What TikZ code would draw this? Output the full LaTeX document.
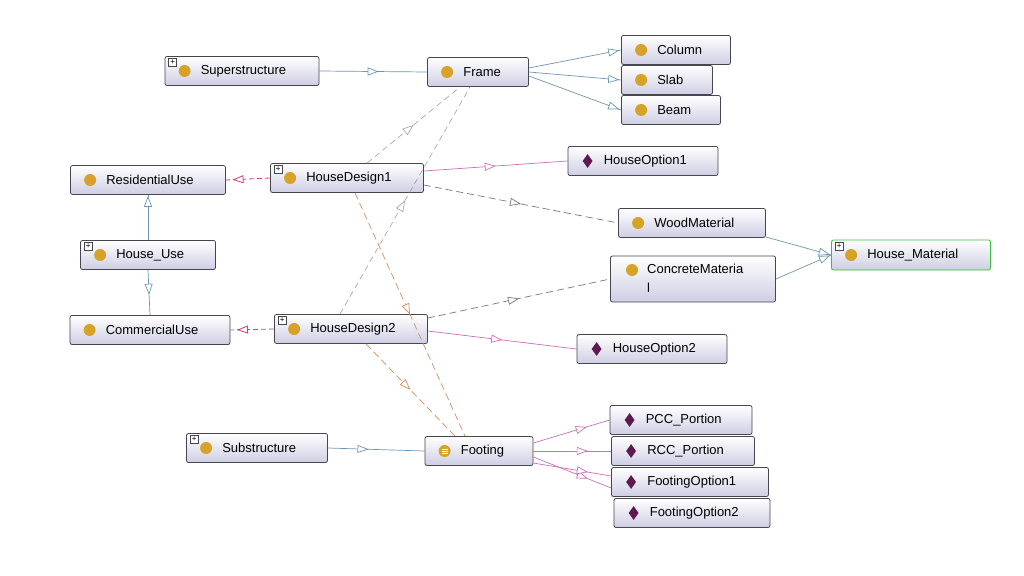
\documentclass[tikz,border=0pt]{standalone}
\usepackage{fontspec}
\setmainfont{Liberation Sans}
\usetikzlibrary{arrows.meta,decorations.markings,shapes.geometric}
\definecolor{lav}{RGB}{206,206,228}
\definecolor{bord}{RGB}{70,70,80}
\definecolor{gold}{RGB}{214,163,40}
\definecolor{plum}{RGB}{95,25,80}
\definecolor{eblue}{RGB}{110,150,180}
\definecolor{epink}{RGB}{205,110,185}
\definecolor{edpink}{RGB}{215,60,125}
\definecolor{egray}{RGB}{120,120,120}
\definecolor{eorange}{RGB}{215,140,90}
\tikzset{
 box/.style={draw=bord,line width=0.8pt,rounded corners=2pt,top color=white,bottom color=lav,minimum height=29,inner sep=0pt},
 lbl/.style={anchor=west,font=\fontsize{13}{15}\selectfont,inner sep=0pt},
 cls/.style={circle,fill=gold,minimum size=12,inner sep=0pt},
 ind/.style={diamond,fill=plum,minimum width=10,minimum height=14,inner sep=0pt},
 plus/.style={draw=bord,fill=white,minimum size=8,inner sep=0pt,font=\fontsize{8}{8}\selectfont},
 inh/.style={postaction={decorate},decoration={markings,mark=at position #1 with {\arrow[solid]{Triangle[open,length=11pt,width=8pt,fill=white]}}}},
 sb/.style={draw=eblue,line width=0.7pt},
 sp/.style={draw=epink,line width=0.7pt},
 dp/.style={draw=edpink,line width=0.8pt,dash pattern=on 5pt off 3pt},
 dg/.style={draw=egray,line width=0.7pt,dash pattern=on 7pt off 4pt},
 dl/.style={draw=egray!70,line width=0.6pt,dash pattern=on 6pt off 4pt},
 dor/.style={draw=eorange,line width=0.7pt,dash pattern=on 7pt off 4pt},
}
% name, cx, cy, width, text, icon (cls/ind/eq), plus(1/0)
\newcommand\onode[7]{%
 \node[box,minimum width=#4] (#1) at (#2,#3) {};
 \node[lbl] (#1t) at ([xshift=36]#1.west) {#5};
 \ifx#6e
  \node[cls] (#1i) at ([xshift=20]#1.west) {};
  \draw[white,line width=0.8pt] ([shift={(-3,-2)}]#1i.center) -- +(6,0) ([shift={(-3,0)}]#1i.center) -- +(6,0) ([shift={(-3,2)}]#1i.center) -- +(6,0);
 \else
  \node[#6] (#1i) at ([xshift=20]#1.west) {};
 \fi
 \ifnum#7=1 \node[plus] (#1p) at ([shift={(8,-9)}]#1.west) {+};\fi
}
\begin{document}
\begin{tikzpicture}[x=1pt,y=-1pt]
\fill[white] (0,0) rectangle (1024,575);
\useasboundingbox (0,0) rectangle (1024,575);
\onode{sup}{242}{71}{154}{Superstructure}{cls}{1}
\onode{frame}{478}{72}{101}{Frame}{cls}{0}
\onode{col}{676}{50}{109}{Column}{cls}{0}
\onode{slab}{667}{80}{91}{Slab}{cls}{0}
\onode{beam}{671}{110}{99}{Beam}{cls}{0}
\onode{ho1}{643}{161}{150}{HouseOption1}{ind}{0}
\onode{res}{148}{180}{155}{ResidentialUse}{cls}{0}
\onode{hd1}{347}{178}{153}{HouseDesign1}{cls}{1}
\onode{wood}{692}{223}{147}{WoodMaterial}{cls}{0}
\onode{huse}{148}{255}{135}{House\_Use}{cls}{1}
\onode{com}{150}{330}{160}{CommercialUse}{cls}{0}
\onode{hd2}{351}{329}{153}{HouseDesign2}{cls}{1}
\onode{ho2}{652}{349}{150}{HouseOption2}{ind}{0}
\onode{sub}{257}{448}{141}{Substructure}{cls}{1}
\onode{foot}{479}{451}{108}{Footing}{e}{0}
\onode{pcc}{681}{420}{142}{PCC\_Portion}{ind}{0}
\onode{rcc}{683}{451}{143}{RCC\_Portion}{ind}{0}
\onode{fo1}{690}{482}{157}{FootingOption1}{ind}{0}
\onode{fo2}{692}{513}{156}{FootingOption2}{ind}{0}
% House_Material (green border)
\node[box,draw={rgb,255:red,60;green,190;blue,60},minimum width=159,minimum height=30] (hmat) at (911,255) {};
\node[lbl] (hmatt) at ([xshift=36]hmat.west) {House\_Material};
\node[cls] (hmati) at ([xshift=20]hmat.west) {};
\node[plus] (hmatp) at ([shift={(8,-9)}]hmat.west) {+};
% ConcreteMaterial (two lines)
\node[box,minimum width=165,minimum height=46] (conc) at (693,279) {};
\node[anchor=north west,font=\fontsize{13}{19}\selectfont,align=left,inner sep=0pt] (conct) at (647,264) {ConcreteMateria\\l};
\node[cls] (conci) at (632,270) {};
% edges
\draw[sb,inh=0.55] (sup.east) -- (frame.west);
\draw[sb,inh=0.98] (frame.east) ++(0,-4) -- (col.west);
\draw[sb,inh=0.98] (frame.east) -- (slab.west);
\draw[sb,inh=0.98] (frame.east) ++(0,4) -- (beam.west);
\draw[sb,inh=0.98] (huse.north) -- (res.south);
\draw[sb,inh=0.55] (huse.south) -- (com.north);
\draw[dp,inh=0.85] (hd1.west) -- (res.east);
\draw[dp,inh=0.85] (hd2.west) -- (com.east);
\draw[sp,inh=0.5] (hd1.east) ++(0,-7) -- (ho1.west);
\draw[sp,inh=0.5] (hd2.east) ++(0,2) -- (ho2.west);
\draw[dg,inh=0.5] (hd1.east) ++(0,7) -- (wood.west);
\draw[dg,inh=0.5] (hd2.east) ++(0,-11) -- (conc.west);
\draw[sb,inh=0.98] (wood.east) ++(0,14) -- (hmat.west);
\draw[sb,inh=0.98] (conc.east) -- (hmat.west);
\draw[dl,inh=0.5] (hd1.north) ++(20,0) -- ([xshift=-18]frame.south);
\draw[dl,inh=0.5] (hd2.north) ++(-11,0) -- ([xshift=-8]frame.south);
\draw[dor,inh=0.5] (hd1.south) ++(8,0) -- ([xshift=-14]foot.north);
\draw[dor,inh=0.5] (hd2.south) ++(15,0) -- ([xshift=-24]foot.north);
\draw[sb,inh=0.42] (sub.east) -- (foot.west);
\draw[sp,inh=0.7] (foot.east) ++(0,-8) -- (pcc.west);
\draw[sp,inh=0.7] (foot.east) -- (rcc.west);
\draw[sp,inh=0.7] (foot.east) ++(0,6) -- ([yshift=-6]fo1.west);
\draw[sp,inh=0.7] (foot.east) ++(0,12) -- ([yshift=6]fo1.west);
\end{tikzpicture}
\end{document}
